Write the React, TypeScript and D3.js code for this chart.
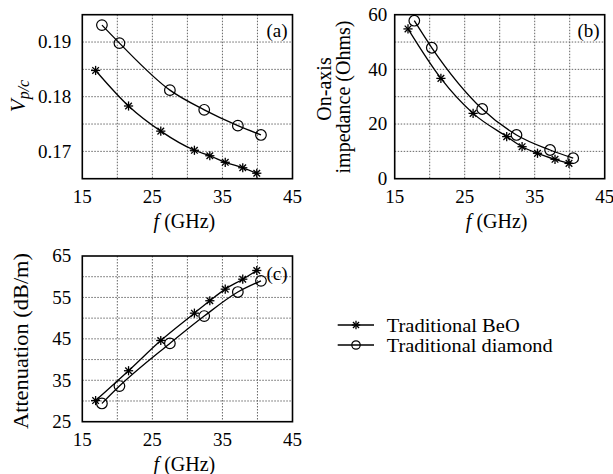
import React from 'react';
import * as d3 from 'd3';

// frequencies (GHz) of the two structures
const freqBeO = [16.9, 21.6, 26.2, 31.0, 33.2, 35.4, 37.9, 39.9];
const freqDiamond = [17.8, 20.3, 27.5, 32.4, 37.2, 40.5];

// (a) phase velocity
const vpBeO = [0.1848, 0.1783, 0.1737, 0.1702, 0.1692, 0.168, 0.167, 0.166];
const vpDiamond = [0.1931, 0.1898, 0.1812, 0.1776, 0.1747, 0.173];

// (b) on-axis impedance
const zBeO = [54.8, 36.7, 23.9, 15.4, 11.7, 9.3, 7.1, 5.6];
const zDiamond = [57.8, 47.9, 25.5, 16.0, 10.5, 7.5];

// (c) attenuation
const attBeO = [30.1, 37.3, 44.6, 51.2, 54.2, 57.0, 59.4, 61.5];
const attDiamond = [29.4, 33.6, 43.9, 50.5, 56.3, 59.0];

const xTicks = [15, 25, 35, 45];
const xGrid = [20, 25, 30, 35, 40];

const legendLabels = ['Traditional BeO', 'Traditional diamond'];
const legendWidths = [133, 166];

const FONT = 'Liberation Serif, DejaVu Serif, serif';
const FS = 19;

type Pt = [number, number];

function Star({ x, y, r = 4.6 }: { x: number; y: number; r?: number }) {
  const d = r * 0.72;
  return (
    <g stroke="#000" strokeWidth={1.3}>
      <line x1={x - r} y1={y} x2={x + r} y2={y} />
      <line x1={x} y1={y - r} x2={x} y2={y + r} />
      <line x1={x - d} y1={y - d} x2={x + d} y2={y + d} />
      <line x1={x - d} y1={y + d} x2={x + d} y2={y - d} />
    </g>
  );
}

function Circ({ x, y, r = 5.3 }: { x: number; y: number; r?: number }) {
  return <circle cx={x} cy={y} r={r} fill="none" stroke="#000" strokeWidth={1.2} />;
}

function Panel(props: {
  left: number; right: number; top: number; bottom: number;
  yDomain: [number, number]; yTicks: number[]; yGrid: number[]; yFmt: (v: number) => string;
  beo: number[]; dia: number[]; tag: string; tagY: number; tickGap: number;
}) {
  const { left, right, top, bottom } = props;
  const x = d3.scaleLinear().domain([15, 45]).range([left, right]);
  const y = d3.scaleLinear().domain(props.yDomain).range([bottom, top]);
  const line = d3.line<Pt>().x(d => x(d[0])).y(d => y(d[1])).curve(d3.curveMonotoneX);
  const sB: Pt[] = freqBeO.map((f, i) => [f, props.beo[i]]);
  const sD: Pt[] = freqDiamond.map((f, i) => [f, props.dia[i]]);
  return (
    <g>
      {xGrid.map(g => (
        <line key={'xg' + g} x1={x(g)} x2={x(g)} y1={top} y2={bottom} stroke="#666" strokeWidth={1} strokeDasharray="1.5,1.5" />
      ))}
      {props.yGrid.map(g => (
        <line key={'yg' + g} x1={left} x2={right} y1={y(g)} y2={y(g)} stroke="#666" strokeWidth={1} strokeDasharray="1.5,1.5" />
      ))}
      <path d={line(sB) || ''} fill="none" stroke="#000" strokeWidth={1.3} />
      <path d={line(sD) || ''} fill="none" stroke="#000" strokeWidth={1.3} />
      {sB.map((p, i) => <Star key={'s' + i} x={x(p[0])} y={y(p[1])} />)}
      {sD.map((p, i) => <Circ key={'c' + i} x={x(p[0])} y={y(p[1])} />)}
      <rect x={left} y={top} width={right - left} height={bottom - top} fill="none" stroke="#000" strokeWidth={1.6} />
      {xTicks.map(t => (
        <text key={'xt' + t} x={x(t)} y={bottom + 24} textAnchor="middle" fontFamily={FONT} fontSize={FS}>{t}</text>
      ))}
      {props.yTicks.map(t => (
        <text key={'yt' + t} x={left - props.tickGap} y={y(t)} dy="0.33em" textAnchor="end" fontFamily={FONT} fontSize={FS}>{props.yFmt(t)}</text>
      ))}
      <text x={(left + right) / 2 - 3} y={bottom + 49} textAnchor="middle" fontFamily={FONT} fontSize={20}>
        <tspan fontStyle="italic">f</tspan> (GHz)
      </text>
      <text x={right - 5} y={props.tagY} textAnchor="end" fontFamily={FONT} fontSize={FS}>{props.tag}</text>
    </g>
  );
}

export default function App() {
  return (
    <svg width={613} height={474} style={{ position: 'absolute', left: 0, top: 0, background: '#fff' }}>
      <Panel left={82.3} right={292.5} top={14.7} bottom={178.7}
        yDomain={[0.165, 0.195]} yTicks={[0.17, 0.18, 0.19]}
        yGrid={[0.17, 0.175, 0.18, 0.185, 0.19]} yFmt={v => v.toFixed(2)}
        beo={vpBeO} dia={vpDiamond} tag="(a)" tagY={37} tickGap={11} />
      <Panel left={394.7} right={604.7} top={14.7} bottom={178.7}
        yDomain={[0, 60]} yTicks={[0, 20, 40, 60]}
        yGrid={[10, 20, 30, 40, 50]} yFmt={v => String(v)}
        beo={zBeO} dia={zDiamond} tag="(b)" tagY={37} tickGap={7.5} />
      <Panel left={82.3} right={292.5} top={256} bottom={421.7}
        yDomain={[25, 65]} yTicks={[25, 35, 45, 55, 65]}
        yGrid={[30, 35, 40, 45, 50, 55, 60]} yFmt={v => String(v)}
        beo={attBeO} dia={attDiamond} tag="(c)" tagY={280} tickGap={11} />

      {/* y axis titles */}
      <text transform="translate(24.5,96) rotate(-90)" textAnchor="middle" fontFamily={FONT} fontSize={21}>
        <tspan fontStyle="italic">V</tspan>
        <tspan fontStyle="italic" fontSize={16} dy={4}>p/c</tspan>
      </text>
      <text transform="translate(331,89) rotate(-90)" textAnchor="middle" fontFamily={FONT} fontSize={20}>On-axis</text>
      <text transform="translate(350,97) rotate(-90)" textAnchor="middle" fontFamily={FONT} fontSize={20}
        textLength={153} lengthAdjust="spacingAndGlyphs">impedance (Ohms)</text>
      <text transform="translate(27.5,341) rotate(-90)" textAnchor="middle" fontFamily={FONT} fontSize={20}
        textLength={176} lengthAdjust="spacingAndGlyphs">Attenuation (dB/m)</text>

      {/* legend */}
      {legendLabels.map((lab, i) => {
        const ly = 325 + i * 20;
        return (
          <g key={lab}>
            <line x1={337.7} x2={374} y1={ly} y2={ly} stroke="#000" strokeWidth={1.3} />
            {i === 0 ? <Star x={356} y={ly} r={4.2} /> : <Circ x={356} y={ly} r={4.2} />}
            <text x={386.7} y={ly + 6.5} fontFamily={FONT} fontSize={19.5}
              textLength={legendWidths[i]} lengthAdjust="spacingAndGlyphs">{lab}</text>
          </g>
        );
      })}
    </svg>
  );
}
